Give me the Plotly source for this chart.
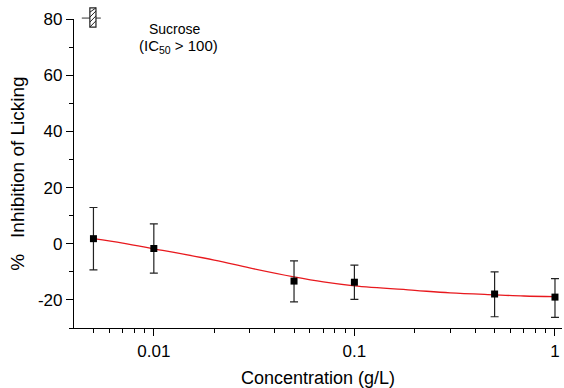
import plotly.graph_objects as go

conc = [0.005, 0.01, 0.05, 0.1, 0.5, 1]
inhib = [1.8, -1.7, -13.3, -13.7, -17.9, -19.0]
err_plus = [11.1, 8.8, 7.2, 6.1, 7.9, 6.6]
err_minus = [11.1, 8.8, 7.4, 6.1, 8.1, 7.2]

fit_x = [0.005, 0.007, 0.01, 0.02, 0.03, 0.05, 0.07, 0.1, 0.2, 0.3, 0.5, 0.7, 1]
fit_y = [1.8, 0.2, -1.8, -5.8, -8.6, -11.8, -13.6, -15.0, -16.6, -17.5, -18.2, -18.6, -18.8]

x_major = [0.01, 0.1, 1]
x_labels = ["0.01", "0.1", "1"]
x_minor = [0.005, 0.006, 0.007, 0.008, 0.009, 0.02, 0.03, 0.04, 0.05, 0.06, 0.07, 0.08, 0.09,
           0.2, 0.3, 0.4, 0.5, 0.6, 0.7, 0.8, 0.9]
y_major = [-20, 0, 20, 40, 60, 80]
y_labels = ["-20", "0", "20", "40", "60", "80"]
y_minor = [-30, -10, 10, 30, 50, 70]

fig = go.Figure()
fig.add_trace(go.Scatter(x=fit_x, y=fit_y, mode="lines", line=dict(color="#e8191e", width=1.3, shape="spline"),
                         hoverinfo="skip", showlegend=False, cliponaxis=False))
fig.add_trace(go.Scatter(
    x=conc, y=inhib, mode="markers",
    marker=dict(symbol="square", size=7, color="black"),
    error_y=dict(type="data", symmetric=False, array=err_plus, arrayminus=err_minus,
                 color="#222", thickness=1.2, width=4),
    showlegend=False, cliponaxis=False))

font = "Liberation Sans, Arial, Helvetica, sans-serif"
fig.update_layout(
    width=564, height=388,
    margin=dict(l=74, r=2, t=19, b=60),
    paper_bgcolor="white", plot_bgcolor="white",
    font=dict(family=font, size=17, color="black"),
    xaxis=dict(type="log", range=[-2.398, 0.035], tickvals=x_major, ticktext=x_labels,
               ticks="outside", ticklen=7, tickwidth=1, tickcolor="black", automargin=False,
               showline=True, linecolor="black", linewidth=1.2, showgrid=False, zeroline=False,
               minor=dict(tickvals=x_minor, ticks="outside", ticklen=4, tickcolor="black", showgrid=False),
               title=dict(text="Concentration (g/L)", font=dict(size=18), standoff=11)),
    yaxis=dict(range=[-30, 80], tickvals=y_major, ticktext=y_labels, ticks="outside", ticklen=7, tickwidth=1,
               tickcolor="black", automargin=False,
               showline=True, linecolor="black", linewidth=1.2, showgrid=False, zeroline=False,
               minor=dict(tickvals=y_minor, ticks="outside", ticklen=4, tickcolor="black", showgrid=False),
               title=dict(text="%\u00a0\u00a0 Inhibition of Licking", font=dict(size=19), standoff=8)),
)

# hatched decoration above top of y axis
shapes = [
    dict(type="line", xref="paper", yref="paper", x0=0.016, x1=0.055, y0=1.003, y1=1.003,
         line=dict(color="#333", width=1)),
    dict(type="rect", xref="paper", yref="paper", x0=0.0325, x1=0.045, y0=0.974, y1=1.036,
         line=dict(color="#222", width=1.2), fillcolor="white"),
]
for i in range(4):
    y0 = 0.974 + i * 0.016
    shapes.append(dict(type="line", xref="paper", yref="paper", x0=0.0325, x1=0.045,
                       y0=y0, y1=min(y0 + 0.02, 1.036), line=dict(color="#222", width=1)))
fig.update_layout(shapes=shapes)

fig.add_annotation(xref="paper", yref="paper", x=0.150, y=0.968, xanchor="left", yanchor="middle",
                   text="Sucrose", showarrow=False, font=dict(size=14))
fig.add_annotation(xref="paper", yref="paper", x=0.130, y=0.912, xanchor="left", yanchor="middle",
                   text="(IC<sub>50</sub> > 100)", showarrow=False, font=dict(size=15))

fig.write_html("out.html", config={"displayModeBar": False},
               post_script="document.body.style.margin='0';document.body.style.overflow='hidden';")
